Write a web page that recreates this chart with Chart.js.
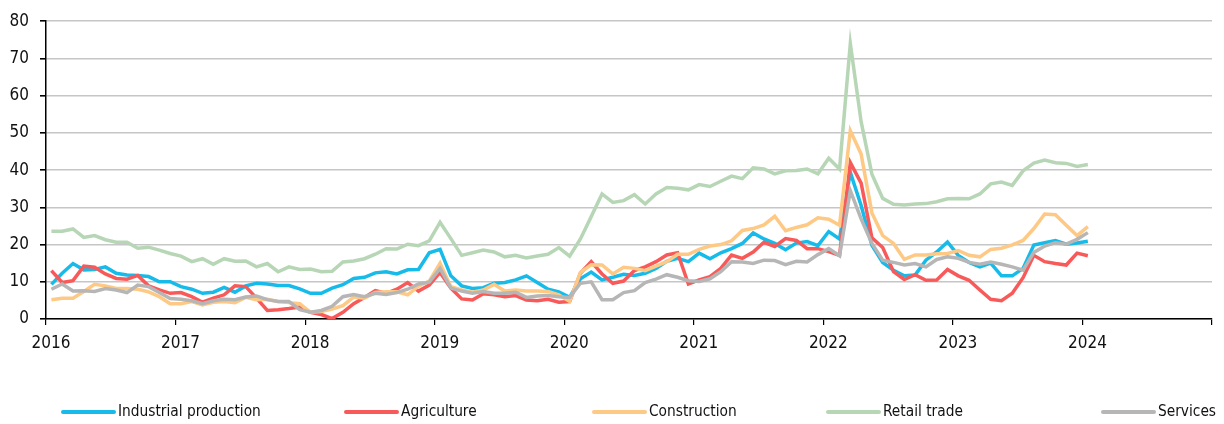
<!DOCTYPE html>
<html>
<head>
<meta charset="utf-8">
<script src="https://cdn.jsdelivr.net/npm/chart.js@4"></script>
<style>
  body { margin: 0; background: #fff; }
  #wrap { position: relative; width: 1224px; height: 424px; }
  #legend { position: absolute; left: 0; top: 400px; width: 1224px; height: 22px;
    font-family: 'Liberation Sans Narrow', 'DejaVu Sans Condensed', sans-serif; font-size: 15.3px; color: #111; }
  .item { position: absolute; top: 0; height: 22px; line-height: 22px; white-space: nowrap; }
  .sw { display: inline-block; width: 55px; height: 4px; border-radius: 2px; vertical-align: middle; margin-right: 2px; }
</style>
</head>
<body>
<div id="wrap">
  <canvas id="chart" width="1224" height="424"></canvas>
  <div id="legend"></div>
</div>
<script>
// --- data (monthly, Jan 2016 - Jan 2024) ---
const years = ['2016', '2017', '2018', '2019', '2020', '2021', '2022', '2023', '2024'];
const seriesNames = ['Industrial production', 'Agriculture', 'Construction', 'Retail trade', 'Services'];
const seriesColors = ['#16bbea', '#f85a5a', '#fdc985', '#b7d6b6', '#b6b6b6'];

const industrial = [
  9.3, 12.3, 14.9, 13.2, 13.3, 14.0, 12.3, 11.8, 11.7, 11.4, 10.0, 10.0,
  8.7, 8.0, 6.9, 7.2, 8.5, 7.2, 8.9, 9.6, 9.4, 9.0, 9.0, 8.1,
  6.9, 6.9, 8.3, 9.2, 10.9, 11.2, 12.4, 12.7, 12.1, 13.2, 13.3, 17.8,
  18.7, 11.6, 8.9, 8.2, 8.4, 9.6, 9.8, 10.5, 11.6, 9.8, 8.0, 7.3,
  5.8, 10.8, 12.6, 10.5, 11.2, 12.0, 11.7, 12.3, 13.6, 15.5, 16.3, 15.4,
  17.7, 16.2, 17.8, 18.9, 20.3, 23.1, 21.5, 20.3, 18.6, 20.4, 20.8, 19.7,
  23.5, 21.5, 39.4, 30.5, 19.8, 15.2, 13.1, 11.6, 11.8, 15.8, 18.0, 20.7,
  17.1, 15.2, 14.0, 15.0, 11.6, 11.6, 13.6, 19.9, 20.5, 21.1, 20.1, 20.4, 20.9
];
const agriculture = [
  13.0, 9.8, 10.3, 14.2, 13.9, 12.1, 10.9, 10.7, 11.7, 8.9, 7.8, 6.9,
  7.1, 6.0, 4.5, 5.6, 6.5, 8.9, 8.7, 5.6, 2.3, 2.5, 2.8, 3.2,
  1.8, 1.2, 0.1, 1.8, 4.1, 5.8, 7.6, 6.9, 8.0, 9.8, 7.5, 9.1,
  12.5, 8.3, 5.4, 5.1, 6.8, 6.5, 6.0, 6.3, 5.1, 4.9, 5.3, 4.5,
  4.7, 12.3, 15.4, 12.1, 9.6, 10.2, 13.0, 14.0, 15.4, 17.2, 17.8, 9.4,
  10.5, 11.4, 13.6, 17.2, 16.3, 18.0, 20.6, 19.5, 21.6, 21.1, 18.9, 18.9,
  18.1, 17.1, 42.0, 36.5, 21.8, 19.2, 12.7, 10.6, 11.9, 10.4, 10.5, 13.3,
  11.6, 10.4, 7.8, 5.3, 4.9, 6.9, 11.1, 17.1, 15.4, 14.9, 14.5, 17.7, 17.0
];
const construction = [
  5.2, 5.6, 5.6, 7.4, 9.3, 8.9, 8.2, 8.2, 8.0, 7.3, 6.0, 4.1,
  4.1, 4.7, 3.8, 4.5, 4.7, 4.4, 5.8, 5.2, 5.3, 4.7, 4.4, 4.1,
  1.8, 2.0, 2.7, 3.6, 5.9, 5.6, 7.1, 7.3, 7.3, 6.5, 8.8, 10.2,
  15.0, 8.7, 7.8, 7.2, 7.8, 9.3, 7.5, 7.8, 7.5, 7.5, 7.4, 6.5,
  4.7, 12.5, 14.6, 14.5, 12.1, 13.9, 13.6, 13.0, 14.2, 15.4, 17.4, 17.4,
  18.7, 19.6, 20.0, 21.0, 23.8, 24.3, 25.3, 27.6, 23.7, 24.6, 25.3, 27.2,
  26.8, 25.2, 50.6, 44.3, 28.5, 22.4, 20.3, 16.0, 17.2, 17.2, 17.5, 17.6,
  18.4, 17.1, 16.7, 18.7, 19.0, 19.9, 21.1, 24.3, 28.2, 28.0, 25.2, 22.4, 24.8
];
const retail = [
  23.6, 23.6, 24.2, 21.9, 22.4, 21.3, 20.6, 20.6, 19.0, 19.3, 18.5, 17.6,
  16.9, 15.4, 16.2, 14.7, 16.2, 15.5, 15.6, 14.0, 14.9, 12.7, 14.0, 13.3,
  13.4, 12.7, 12.8, 15.3, 15.6, 16.2, 17.4, 18.9, 18.8, 20.1, 19.7, 21.0,
  26.0, 21.6, 17.1, 17.8, 18.5, 18.0, 16.7, 17.1, 16.4, 16.9, 17.4, 19.2,
  16.9, 21.5, 27.5, 33.6, 31.3, 31.8, 33.4, 30.9, 33.6, 35.3, 35.1, 34.7,
  36.1, 35.6, 37.0, 38.4, 37.7, 40.6, 40.3, 39.0, 39.8, 39.9, 40.3, 39.0,
  43.2, 40.3, 74.0, 53.0, 38.9, 32.4, 30.8, 30.6, 30.9, 31.0, 31.5, 32.3,
  32.4, 32.3, 33.6, 36.3, 36.8, 35.9, 39.8, 41.9, 42.7, 42.0, 41.8, 41.0, 41.5
];
const services = [
  8.0, 9.4, 7.5, 7.6, 7.4, 8.2, 7.8, 7.1, 9.1, 8.7, 7.1, 5.5,
  5.3, 4.9, 4.1, 4.9, 5.3, 5.2, 5.9, 6.2, 5.2, 4.7, 4.7, 2.5,
  1.8, 2.3, 3.4, 6.0, 6.6, 6.0, 6.9, 6.6, 7.1, 8.0, 9.4, 9.9,
  13.6, 8.3, 7.5, 6.9, 7.4, 6.9, 6.9, 7.2, 5.8, 6.2, 6.3, 6.0,
  5.8, 9.6, 10.0, 5.2, 5.2, 7.1, 7.6, 9.8, 10.7, 11.9, 11.2, 10.3,
  10.1, 10.8, 12.7, 15.4, 15.3, 14.9, 15.8, 15.7, 14.6, 15.5, 15.3, 17.3,
  18.9, 17.0, 34.5, 26.9, 20.3, 15.8, 15.2, 14.5, 14.9, 14.0, 16.0, 16.7,
  16.3, 15.2, 14.7, 15.3, 14.7, 14.0, 13.1, 17.9, 19.6, 20.5, 20.1, 21.4, 23.2
];
const allSeries = [industrial, agriculture, construction, retail, services];

// months since Jan 2016, point sits mid-month
const toPoints = arr => arr.map((v, i) => ({ x: i + 0.5, y: v }));

const FONT = "'Liberation Sans Narrow', 'DejaVu Sans Condensed', sans-serif";

const chart = new Chart(document.getElementById('chart'), {
  type: 'line',
  data: {
    datasets: allSeries.map((arr, k) => ({
      label: seriesNames[k],
      data: toPoints(arr),
      borderColor: seriesColors[k],
      backgroundColor: seriesColors[k],
      borderWidth: 3.5,
      pointRadius: 0,
      tension: 0,
      fill: false,
      order: allSeries.length - k
    }))
  },
  options: {
    responsive: false,
    animation: false,
    layout: { padding: { left: 0, right: 12, top: 19, bottom: 0 } },
    plugins: { legend: { display: false }, tooltip: { enabled: false } },
    scales: {
      x: {
        type: 'linear',
        min: 0,
        max: years.length * 12,
        afterFit: s => { s.height = 105; },
        afterBuildTicks: s => { s.ticks = years.map((y, i) => ({ value: i * 12 })).concat([{ value: years.length * 12 }]); },
        ticks: {
          autoSkip: false,
          maxRotation: 0,
          labelOffset: 5,
          padding: 8,
          color: '#111',
          font: { family: FONT, size: 17 },
          callback: v => years[v / 12] || ''
        },
        grid: { drawOnChartArea: false, drawTicks: true, tickLength: 6, tickColor: '#000', lineWidth: 1.2 },
        border: { color: '#000', width: 1.5 }
      },
      y: {
        min: 0,
        max: 80,
        afterFit: s => { s.width = 46; },
        ticks: {
          stepSize: 10,
          padding: 11,
          color: '#111',
          font: { family: FONT, size: 17 }
        },
        grid: { color: '#c6c6c6', lineWidth: 1.6, tickColor: '#000', tickLength: 6 },
        border: { color: '#000', width: 1.5 }
      }
    }
  }
});

// legend with the original's spacing
const legendLeft = [61, 344, 592, 826, 1101];
const legend = document.getElementById('legend');
seriesNames.forEach((name, k) => {
  const item = document.createElement('div');
  item.className = 'item';
  item.style.left = legendLeft[k] + 'px';
  item.innerHTML = '<span class="sw" style="background:' + seriesColors[k] + '"></span>' + name;
  legend.appendChild(item);
});
</script>
</body>
</html>
